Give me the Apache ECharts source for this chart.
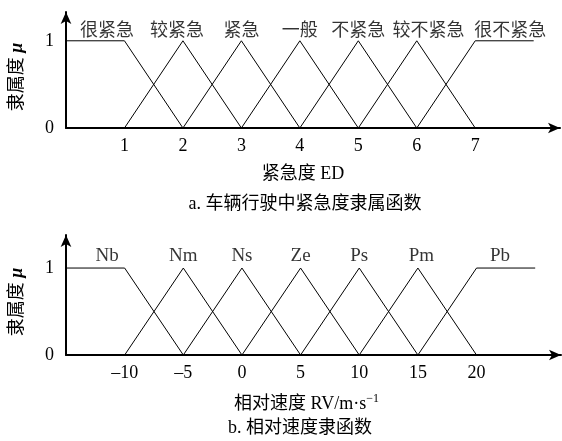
<!DOCTYPE html>
<html>
<head>
<meta charset="utf-8">
<script src="https://cdn.jsdelivr.net/npm/echarts@6/dist/echarts.min.js"></script>
<style>
  html, body { margin: 0; background: #fff; }
  #chart { width: 562px; height: 441px; }
</style>
</head>
<body>
<div id="chart"></div>
<script>
const FONT = "'Liberation Serif', 'Noto Sans CJK SC', serif";

// a. 车辆行驶中紧急度隶属函数
const edTicks = [1, 2, 3, 4, 5, 6, 7];
const edNames = ['很紧急', '较紧急', '紧急', '一般', '不紧急', '较不紧急', '很不紧急'];
const edLabelX = [0.7, 1.9, 3, 4, 5, 6.2, 7.6];
const edCurves = [
  [[0, 1], [1, 1], [2, 0]],
  [[1, 0], [2, 1], [3, 0]],
  [[2, 0], [3, 1], [4, 0]],
  [[3, 0], [4, 1], [5, 0]],
  [[4, 0], [5, 1], [6, 0]],
  [[5, 0], [6, 1], [7, 0]],
  [[6, 0], [7, 1], [8, 1]]
];

// b. 相对速度隶函数
const rvTicks = [-10, -5, 0, 5, 10, 15, 20];
const rvNames = ['Nb', 'Nm', 'Ns', 'Ze', 'Ps', 'Pm', 'Pb'];
const rvLabelX = [-11.5, -5, 0, 5, 10, 15.3, 22];
const rvCurves = [
  [[-15, 1], [-10, 1], [-5, 0]],
  [[-10, 0], [-5, 1], [0, 0]],
  [[-5, 0], [0, 1], [5, 0]],
  [[0, 0], [5, 1], [10, 0]],
  [[5, 0], [10, 1], [15, 0]],
  [[10, 0], [15, 1], [20, 0]],
  [[15, 0], [20, 1], [25, 1]]
];

const muTicks = [0, 1];

const chart = echarts.init(document.getElementById('chart'));

const axisLine = {
  onZero: false,
  lineStyle: { color: '#000', width: 2 },
  symbol: ['none', 'arrow'],
  symbolSize: [8, 12]
};

function xAxisOf(idx, min, max, ticks, name, nameRich, namePad, gap) {
  return {
    type: 'value', gridIndex: idx, min, max,
    axisLine,
    axisTick: { show: false },
    splitLine: { show: false },
    axisLabel: {
      customValues: ticks, color: '#000', fontFamily: FONT, fontSize: 18, margin: 9,
      formatter: v => String(v).replace('-', '\u2013')
    },
    name, nameLocation: 'middle', nameGap: gap,
    nameTextStyle: { color: '#000', fontFamily: FONT, fontSize: 18, padding: namePad, rich: nameRich }
  };
}

function yAxisOf(idx, max) {
  return {
    type: 'value', gridIndex: idx, min: 0, max,
    axisLine,
    axisTick: { show: false },
    splitLine: { show: false },
    axisLabel: { customValues: muTicks, color: '#000', fontFamily: FONT, fontSize: 18, margin: 12 },
    name: '隶属度 {mu|μ}', nameLocation: 'middle', nameGap: 40, nameRotate: 90,
    nameTextStyle: {
      color: '#000', fontFamily: FONT, fontSize: 18, padding: [0, 14, 0, 0],
      rich: { mu: { fontFamily: FONT, fontSize: 18, fontWeight: 'bold', fontStyle: 'italic', color: '#000' } }
    }
  };
}

function curveSeries(curves, idx) {
  return curves.map(c => ({
    type: 'line', xAxisIndex: idx, yAxisIndex: idx, data: c,
    showSymbol: false, silent: true,
    lineStyle: { color: '#000', width: 1 }
  }));
}

function labelSeries(xs, names, idx, family, size) {
  return {
    type: 'scatter', xAxisIndex: idx, yAxisIndex: idx, symbolSize: 0, silent: true,
    data: xs.map((x, i) => ({ value: [x, 1], name: names[i] })),
    label: {
      show: true, position: 'top', distance: 3, formatter: p => p.name,
      color: '#000', fontFamily: family, fontSize: size
    }
  };
}

chart.setOption({
  animation: false,
  backgroundColor: '#fff',
  grid: [
    { left: 62, top: 12, width: 498, height: 116 },
    { left: 63, top: 235, width: 498, height: 120 }
  ],
  xAxis: [
    xAxisOf(0, 0, 8.45, edTicks, '紧急度 ED', {}, [0, 20, 0, 0], 37),
    xAxisOf(1, -15, 27.2, rvTicks, '相对速度 RV/m·s{sup|\u22121}',
      { sup: { fontFamily: FONT, fontSize: 12, color: '#000', verticalAlign: 'top', padding: [0, 0, 10, 0] } },
      [0, 14, 0, 0], 38)
  ],
  yAxis: [yAxisOf(0, 1.33), yAxisOf(1, 1.38)],
  series: [
    ...curveSeries(edCurves, 0),
    labelSeries(edLabelX, edNames, 0, "'Noto Sans CJK SC', sans-serif", 18),
    ...curveSeries(rvCurves, 1),
    labelSeries(rvLabelX, rvNames, 1, FONT, 19)
  ],
  graphic: [
    { type: 'text', x: 305, y: 204, style: { text: 'a. 车辆行驶中紧急度隶属函数', font: "18px " + FONT, fill: '#000', align: 'center', verticalAlign: 'middle' } },
    { type: 'text', x: 300, y: 428, style: { text: 'b. 相对速度隶函数', font: "18px " + FONT, fill: '#000', align: 'center', verticalAlign: 'middle' } }
  ]
});
</script>
</body>
</html>
